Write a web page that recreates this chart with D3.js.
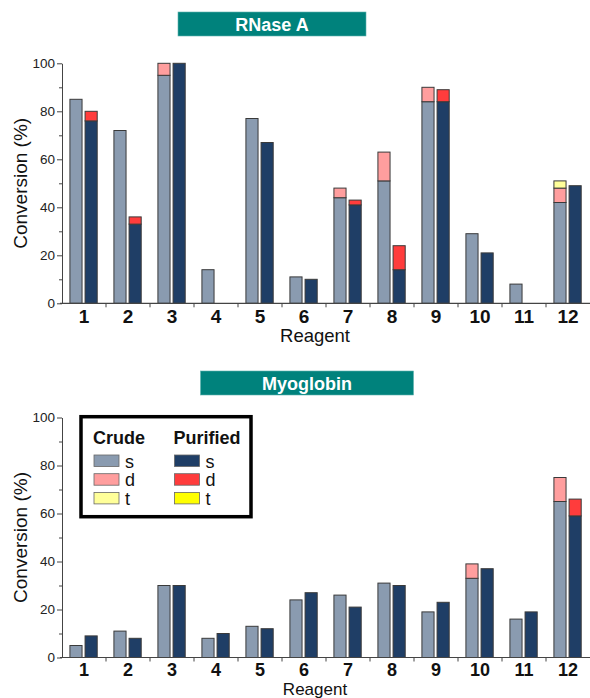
<!DOCTYPE html>
<html>
<head>
<meta charset="utf-8">
<script src="https://cdn.jsdelivr.net/npm/d3@7/dist/d3.min.js"></script>
<style>
  html, body { margin: 0; padding: 0; background: #fff; }
  svg { display: block; font-family: "Liberation Sans", Arial, sans-serif; }
</style>
</head>
<body>
<svg id="chart" width="590" height="698"></svg>
<script>
// ---------- DATA ----------
const categories = ["1","2","3","4","5","6","7","8","9","10","11","12"];
const yTicks = [0, 20, 40, 60, 80, 100];
const yMinorTicks = [10, 30, 50, 70, 90];

// RNase A
const rnaseCrudeS = [85, 72, 95, 14, 77, 11, 44, 51, 84, 29, 8, 42];
const rnaseCrudeD = [0, 0, 5, 0, 0, 0, 4, 12, 6, 0, 0, 6];
const rnaseCrudeT = [0, 0, 0, 0, 0, 0, 0, 0, 0, 0, 0, 3];
const rnasePurS   = [76, 33, 100, 0, 67, 10, 41, 14, 84, 21, 0, 49];
const rnasePurD   = [4, 3, 0, 0, 0, 0, 2, 10, 5, 0, 0, 0];
const rnasePurT   = [0, 0, 0, 0, 0, 0, 0, 0, 0, 0, 0, 0];

// Myoglobin
const myoCrudeS = [5, 11, 30, 8, 13, 24, 26, 31, 19, 33, 16, 65];
const myoCrudeD = [0, 0, 0, 0, 0, 0, 0, 0, 0, 6, 0, 10];
const myoCrudeT = [0, 0, 0, 0, 0, 0, 0, 0, 0, 0, 0, 0];
const myoPurS   = [9, 8, 30, 10, 12, 27, 21, 30, 23, 37, 19, 59];
const myoPurD   = [0, 0, 0, 0, 0, 0, 0, 0, 0, 0, 0, 7];
const myoPurT   = [0, 0, 0, 0, 0, 0, 0, 0, 0, 0, 0, 0];

const groups = ["Crude", "Purified"];
const parts = ["s", "d", "t"];
const colors = {
  Crude:    { s: "#8a9bb0", d: "#ff9e9e", t: "#ffff99" },
  Purified: { s: "#1f3e66", d: "#ff3c3c", t: "#ffff00" }
};

// ---------- DRAW ----------
const svg = d3.select("#chart");
const FONT = '"Liberation Sans", Arial, sans-serif';

function panel(opts) {
  const { title, boxX, boxY, boxW, boxH, top, bottom, series, reagentDy, catDy, catSize, reagentSize } = opts;
  const left = 62, right = 590;

  // title box
  svg.append("rect").attr("x", boxX).attr("y", boxY).attr("width", boxW).attr("height", boxH)
    .attr("fill", "#00827c").attr("stroke", "#5fb3ad").attr("stroke-width", 0.6);
  svg.append("text").attr("x", boxX + boxW / 2).attr("y", boxY + boxH / 2 + 6.5)
    .attr("text-anchor", "middle").attr("fill", "#fff").attr("font-weight", "bold")
    .attr("font-size", 18).text(title);

  const x = d3.scaleBand().domain(categories).range([left, right]).paddingInner(0).paddingOuter(0);
  const bw = x.bandwidth();
  const xg = d3.scaleBand().domain(groups).range([bw * 0.18, bw * 0.8]).paddingInner(0.2);
  const y = d3.scaleLinear().domain([0, 100]).range([bottom, top]);

  const g = svg.append("g");

  // bars
  groups.forEach(grp => {
    const sArr = series[grp];
    categories.forEach((c, i) => {
      let base = 0;
      parts.forEach(p => {
        const v = sArr[p][i];
        if (v > 0) {
          g.append("rect")
            .attr("x", x(c) + xg(grp))
            .attr("width", xg.bandwidth())
            .attr("y", y(base + v))
            .attr("height", y(base) - y(base + v))
            .attr("fill", colors[grp][p])
            .attr("stroke", "#3a3a3a").attr("stroke-width", 1);
        }
        base += v;
      });
    });
  });

  // y axis
  const yAxis = d3.axisLeft(y).tickValues(yTicks).tickSize(5).tickSizeOuter(0).tickPadding(2);
  const ya = svg.append("g").attr("transform", `translate(${left},0)`).call(yAxis);
  ya.select(".domain").attr("stroke", "#444");
  ya.selectAll(".tick line").attr("stroke", "#444");
  ya.selectAll(".tick text").attr("font-size", 13.5).attr("fill", "#222").attr("font-family", FONT);
  const yMinor = d3.axisLeft(y).tickValues(yMinorTicks).tickSize(3).tickSizeOuter(0).tickFormat("");
  const ym = svg.append("g").attr("transform", `translate(${left},0)`).call(yMinor);
  ym.select(".domain").remove();
  ym.selectAll(".tick line").attr("stroke", "#444");

  // x axis
  const xa = svg.append("g").attr("transform", `translate(0,${bottom})`);
  xa.append("line").attr("x1", left - 2).attr("x2", right).attr("y1", 0).attr("y2", 0)
    .attr("stroke", "#444").attr("stroke-width", 1.2);
  xa.selectAll("line.tk").data(categories.slice(1)).join("line").attr("class", "tk")
    .attr("x1", d => x(d)).attr("x2", d => x(d)).attr("y1", 0).attr("y2", 4)
    .attr("stroke", "#444");
  xa.selectAll("text.cat").data(categories).join("text").attr("class", "cat")
    .attr("x", d => x(d) + bw / 2).attr("y", catDy)
    .attr("text-anchor", "middle").attr("font-weight", "bold").attr("font-size", catSize)
    .attr("fill", "#111").text(d => d);

  svg.append("text").attr("x", 315).attr("y", bottom + reagentDy).attr("text-anchor", "middle")
    .attr("font-size", reagentSize).attr("fill", "#111").text("Reagent");

  svg.append("text").attr("transform", `translate(27,${(top + bottom) / 2}) rotate(-90)`)
    .attr("text-anchor", "middle").attr("font-size", 19).attr("fill", "#111").text("Conversion (%)");
}

panel({
  title: "RNase A", boxX: 178, boxY: 12, boxW: 188, boxH: 24, top: 63.3, bottom: 303.3,
  reagentDy: 39, catDy: 19.5, catSize: 19, reagentSize: 18.5,
  series: {
    Crude: { s: rnaseCrudeS, d: rnaseCrudeD, t: rnaseCrudeT },
    Purified: { s: rnasePurS, d: rnasePurD, t: rnasePurT }
  }
});

panel({
  title: "Myoglobin", boxX: 200.5, boxY: 371, boxW: 213, boxH: 24, top: 417.5, bottom: 657.5,
  reagentDy: 37.5, catDy: 18.5, catSize: 18, reagentSize: 17,
  series: {
    Crude: { s: myoCrudeS, d: myoCrudeD, t: myoCrudeT },
    Purified: { s: myoPurS, d: myoPurD, t: myoPurT }
  }
});

// legend
const lg = svg.append("g");
lg.append("rect").attr("x", 81).attr("y", 416.7).attr("width", 170).attr("height", 100)
  .attr("fill", "#fff").attr("stroke", "#000").attr("stroke-width", 3.5);
const legCols = [{ grp: "Crude", tx: 93, sx: 94 }, { grp: "Purified", tx: 173.5, sx: 174.5 }];
legCols.forEach(col => {
  lg.append("text").attr("x", col.tx).attr("y", 443.5).attr("font-weight", "bold")
    .attr("font-size", 18).attr("fill", "#111").text(col.grp);
  parts.forEach((p, i) => {
    const yy = 455 + i * 18.7;
    lg.append("rect").attr("x", col.sx).attr("y", yy).attr("width", 25).attr("height", 11.5)
      .attr("fill", colors[col.grp][p]).attr("stroke", "#666").attr("stroke-width", 0.8);
    lg.append("text").attr("x", col.sx + 31).attr("y", yy + 12.5).attr("font-size", 18)
      .attr("fill", "#111").text(p);
  });
});
</script>
</body>
</html>
